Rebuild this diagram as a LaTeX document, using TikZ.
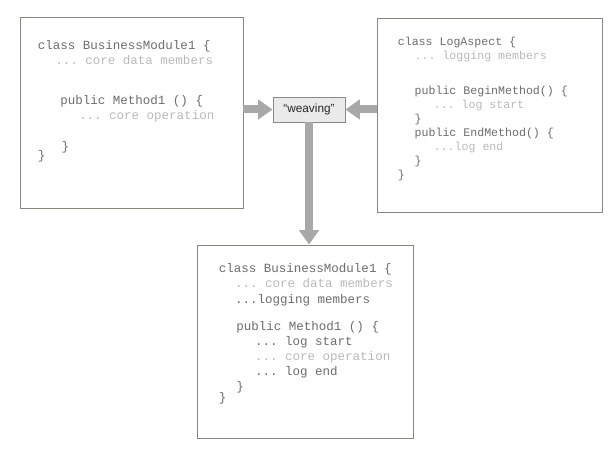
\documentclass[tikz,border=0pt]{standalone}
\usepackage{fontspec}
\setmonofont{Liberation Mono}
\newfontfamily\weavefont{Liberation Sans}
\usepackage{tikz}
\usetikzlibrary{positioning, arrows.meta}
\definecolor{codeGray}{RGB}{108,108,108}
\definecolor{noteGray}{RGB}{185,185,185}
\definecolor{frameGray}{RGB}{138,134,126}
\definecolor{arrowGray}{RGB}{168,168,168}
\definecolor{weaveFill}{RGB}{234,234,234}
\newcommand{\ind}[1]{\hspace*{#1em}}
\newcommand{\note}[1]{{\color{noteGray}#1}}

\begin{document}
\begin{tikzpicture}[
  frame/.style={draw=frameGray, line width=0.6pt, rectangle, inner sep=0pt},
  code/.style={anchor=north west, inner sep=0pt, align=left, text=codeGray,
    font=\fontsize{8.9}{10.7}\selectfont\ttfamily},
  bigarrow/.style={draw=arrowGray, line width=0.2cm,
    -{Triangle[length=0.36cm, width=0.48cm]}},
]
  \useasboundingbox (0,0) rectangle (15.2,11.225);

  \node[frame, minimum width=5.575cm, minimum height=4.775cm] (base) at (3.2875, 8.4125) {};
  \node[frame, minimum width=5.625cm, minimum height=4.85cm] (aspect) at (12.2375, 8.35) {};
  \node[frame, minimum width=5.4cm, minimum height=4.825cm] (woven) at (7.625, 2.6875) {};
  \node[draw=codeGray!80, fill=weaveFill, line width=0.6pt, minimum width=1.8cm,
    minimum height=0.625cm, inner sep=0pt, font=\fontsize{8.4}{9}\selectfont\weavefont,
    text=black!85] (weave) at (7.725, 8.4875) {“weaving”};

  \node[code] (baseCode) at ([xshift=0.45cm, yshift=-0.6cm]base.north west)
    {class BusinessModule1 \{\\
     \ind{1.4}\note{... core data members}\\[0.6cm]
     \ind{1.8}public Method1 () \{\\
     \ind{3.3}\note{... core operation}\\[0.4cm]
     \ind{1.9}\}\\[-0.15cm]
     \}};

  \node[code, font=\fontsize{8.25}{9.96}\selectfont\ttfamily] (aspectCode)
    at ([xshift=0.525cm, yshift=-0.475cm]aspect.north west)
    {class LogAspect \{\\
     \ind{1.45}\note{... logging members}\\[0.525cm]
     \ind{1.45}public BeginMethod() \{\\
     \ind{3.1}\note{... log start}\\
     \ind{1.45}\}\\
     \ind{1.45}public EndMethod() \{\\
     \ind{3.1}\note{...log end}\\
     \ind{1.45}\}\\
     \}};

  \node[code] (wovenCode) at ([xshift=0.55cm, yshift=-0.475cm]woven.north west)
    {class BusinessModule1 \{\\
     \ind{1.3}\note{... core data members}\\
     \ind{1.3}...logging members\\[0.3cm]
     \ind{1.4}public Method1 () \{\\
     \ind{2.9}... log start\\
     \ind{2.9}\note{... core operation}\\
     \ind{2.9}... log end\\
     \ind{1.4}\}\\[-0.1cm]
     \}};

  \draw[bigarrow] (base.east |- weave.west) -- (weave.west);
  \draw[bigarrow] (aspect.west |- weave.east) -- (weave.east);
  \draw[bigarrow] (weave.south) -- (weave.south |- woven.north);
\end{tikzpicture}
\end{document}
